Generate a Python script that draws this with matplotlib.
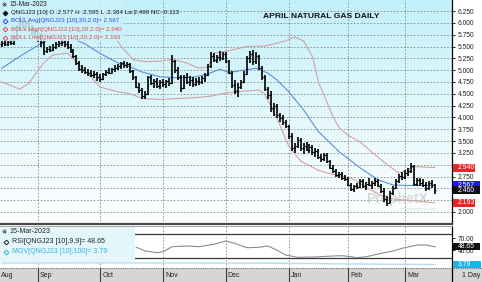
"""April natural gas daily bar chart (ProphetX style) -> out.png"""
import numpy as np, pandas as pd, matplotlib; matplotlib.use("Agg")
import matplotlib.pyplot as plt
from matplotlib.colors import LinearSegmentedColormap
from matplotlib.patches import Rectangle
from matplotlib.lines import Line2D

plt.rcParams["font.family"] = ["Liberation Sans", "DejaVu Sans"]

# trading days shown: 16-Aug-2022 .. 15-Mar-2023
holidays = ["2022-09-05", "2022-11-24", "2022-12-26", "2023-01-02", "2023-01-16", "2023-02-20"]
dates = pd.bdate_range("2022-08-16", "2023-03-15", freq="C", holidays=holidays)

# daily OHLC, QNGJ23
opens = [5.55, 5.58, 5.55, 5.60, 5.57, 5.66, 5.90, 6.05, 5.95, 6.00, 5.85, 5.80,            # Aug
         5.75, 5.70, 5.60, 5.40, 5.45, 5.42, 5.50, 5.55, 5.58, 5.60, 5.56, 5.50, 5.40, 5.30,
         5.15, 5.03, 5.00, 4.96, 4.94, 4.90, 4.92,                                          # Sep
         4.85, 4.82, 4.92, 4.97, 4.95, 5.02, 5.05, 5.08, 5.15, 5.10, 5.12, 4.98, 4.85, 4.65,
         4.58, 4.45, 4.50, 4.85, 4.72, 4.72, 4.66,                                          # Oct
         4.76, 4.70, 4.78, 4.72, 5.20, 5.00, 4.85, 4.62, 4.85, 4.75, 4.80, 4.70, 4.78, 4.74,
         4.84, 4.90, 5.08, 5.30, 5.22, 5.28, 5.25,                                          # Nov
         5.34, 5.20, 4.95, 4.68, 4.55, 4.65, 4.75, 4.92, 5.25, 5.35, 5.20, 5.30, 5.05, 4.85,
         4.60, 4.48, 4.20, 4.25, 4.05, 3.98, 3.90,                                          # Dec
         3.82, 3.60, 3.35, 3.40, 3.52, 3.35, 3.40, 3.32, 3.38, 3.26, 3.30, 3.16, 3.12, 3.20,
         3.08, 2.94, 2.86, 2.78, 2.80, 2.72,                                                # Jan
         2.70, 2.58, 2.48, 2.54, 2.52, 2.66, 2.55, 2.60, 2.58, 2.62, 2.66, 2.56, 2.44, 2.28,
         2.20, 2.40, 2.50, 2.66, 2.76,                                                      # Feb
         2.74, 2.82, 2.86, 2.98, 2.60, 2.68, 2.62, 2.58, 2.50, 2.62, 2.577]                 # Mar
highs = [5.62, 5.64, 5.62, 5.65, 5.70, 5.95, 6.15, 6.12, 6.05, 6.08, 5.95, 5.88,
         5.85, 5.78, 5.62, 5.50, 5.52, 5.55, 5.60, 5.62, 5.66, 5.64, 5.62, 5.55, 5.45, 5.33,
         5.20, 5.10, 5.06, 5.02, 5.00, 4.98, 4.96,
         4.92, 4.95, 5.00, 5.05, 5.05, 5.10, 5.12, 5.18, 5.20, 5.18, 5.15, 5.00, 4.88, 4.72,
         4.62, 4.55, 4.88, 4.90, 4.82, 4.83, 4.80,
         4.82, 4.80, 4.84, 5.32, 5.22, 5.07, 4.90, 4.90, 4.95, 4.88, 4.86, 4.84, 4.86, 4.88,
         4.94, 5.12, 5.38, 5.36, 5.32, 5.40, 5.38,
         5.38, 5.22, 4.98, 4.80, 4.72, 4.80, 4.98, 5.30, 5.40, 5.42, 5.38, 5.32, 5.08, 4.90,
         4.65, 4.55, 4.30, 4.28, 4.10, 4.05, 3.95,
         3.85, 3.68, 3.45, 3.58, 3.56, 3.45, 3.48, 3.44, 3.42, 3.36, 3.34, 3.22, 3.24, 3.25,
         3.10, 3.00, 2.90, 2.85, 2.84, 2.78,
         2.74, 2.62, 2.58, 2.62, 2.70, 2.70, 2.64, 2.72, 2.66, 2.72, 2.70, 2.60, 2.50, 2.34,
         2.45, 2.55, 2.70, 2.80, 2.84,
         2.88, 2.92, 3.04, 3.00, 2.72, 2.72, 2.70, 2.64, 2.66, 2.68, 2.595]
lows = [5.50, 5.52, 5.51, 5.53, 5.54, 5.64, 5.85, 5.88, 5.85, 5.80, 5.72, 5.68,
        5.60, 5.50, 5.32, 5.36, 5.38, 5.40, 5.45, 5.48, 5.52, 5.50, 5.45, 5.36, 5.25, 5.10,
        4.98, 4.95, 4.92, 4.88, 4.86, 4.84, 4.78,
        4.76, 4.80, 4.88, 4.92, 4.93, 4.97, 5.00, 5.02, 5.05, 5.04, 4.95, 4.80, 4.62, 4.52,
        4.40, 4.38, 4.48, 4.68, 4.62, 4.62, 4.60,
        4.64, 4.62, 4.66, 4.70, 4.95, 4.80, 4.54, 4.60, 4.70, 4.66, 4.64, 4.66, 4.68, 4.70,
        4.76, 4.88, 5.05, 5.18, 5.16, 5.20, 5.22,
        5.15, 4.92, 4.62, 4.50, 4.44, 4.60, 4.72, 4.90, 5.15, 5.10, 5.12, 5.00, 4.80, 4.55,
        4.40, 4.12, 4.02, 3.98, 3.90, 3.85, 3.78,
        3.55, 3.30, 3.25, 3.36, 3.30, 3.22, 3.28, 3.24, 3.20, 3.16, 3.12, 3.06, 3.08, 3.04,
        2.90, 2.82, 2.74, 2.72, 2.68, 2.66,
        2.54, 2.44, 2.42, 2.48, 2.50, 2.50, 2.47, 2.55, 2.48, 2.56, 2.52, 2.40, 2.22, 2.12,
        2.18, 2.36, 2.48, 2.62, 2.68,
        2.70, 2.76, 2.82, 2.56, 2.54, 2.56, 2.52, 2.44, 2.46, 2.50, 2.384]
closes = [5.58, 5.55, 5.60, 5.57, 5.66, 5.90, 6.05, 5.95, 6.00, 5.85, 5.80, 5.75,
          5.70, 5.60, 5.40, 5.45, 5.42, 5.50, 5.55, 5.58, 5.60, 5.56, 5.50, 5.40, 5.30, 5.15,
          5.03, 5.00, 4.96, 4.94, 4.90, 4.92, 4.85,
          4.82, 4.92, 4.97, 4.95, 5.02, 5.05, 5.08, 5.15, 5.10, 5.12, 4.98, 4.85, 4.65, 4.58,
          4.45, 4.50, 4.85, 4.72, 4.78, 4.66, 4.76,
          4.70, 4.78, 4.72, 5.20, 5.00, 4.85, 4.62, 4.85, 4.75, 4.80, 4.70, 4.78, 4.74, 4.84,
          4.90, 5.08, 5.30, 5.22, 5.28, 5.25, 5.34,
          5.20, 4.95, 4.68, 4.55, 4.65, 4.75, 4.92, 5.25, 5.35, 5.20, 5.30, 5.05, 4.85, 4.60,
          4.48, 4.20, 4.25, 4.05, 3.98, 3.90, 3.82,
          3.60, 3.35, 3.40, 3.52, 3.35, 3.40, 3.32, 3.38, 3.26, 3.30, 3.16, 3.12, 3.20, 3.08,
          2.94, 2.86, 2.78, 2.80, 2.72, 2.70,
          2.58, 2.48, 2.54, 2.52, 2.66, 2.55, 2.60, 2.58, 2.62, 2.66, 2.56, 2.44, 2.28, 2.20,
          2.40, 2.50, 2.66, 2.76, 2.74,
          2.82, 2.86, 2.98, 2.60, 2.68, 2.62, 2.58, 2.50, 2.62, 2.58, 2.460]

# Bollinger bands (20, 2.0), x = bar number (0 = 16-Aug)
boll_hi_x = [0, 6, 12, 22, 28, 33, 37, 40, 44, 48, 53, 57, 62, 66, 69, 71, 76, 82, 88, 92,
             95, 98, 101, 104, 106, 108, 111, 113, 116, 120, 124, 129, 133, 136, 138, 145]
boll_hi = [5.95, 6.10, 6.10, 6.15, 6.05, 5.95, 5.78, 5.50, 5.22, 5.18, 5.19, 5.23, 5.15, 5.04,
           5.07, 5.36, 5.41, 5.50, 5.51, 5.57, 5.62, 5.70, 5.62, 5.29, 4.75, 4.45, 4.00, 3.78,
           3.62, 3.48, 3.26, 3.00, 2.82, 2.90, 2.96, 2.94]
boll_avg_x = [0, 6, 12, 17, 22, 28, 33, 39, 43, 47, 53, 59, 64, 69, 73, 76, 81, 85, 89, 92,
              96, 101, 106, 113, 120, 126, 131, 136, 145]
boll_avg = [5.04, 5.29, 5.52, 5.70, 5.72, 5.55, 5.35, 5.15, 5.07, 4.96, 4.86, 4.84, 4.85, 4.92,
            5.02, 4.95, 5.00, 5.04, 4.94, 4.80, 4.55, 4.16, 3.70, 3.27, 2.93, 2.68, 2.57, 2.56, 2.567]
boll_lo_x = [0, 6, 9, 14, 17, 22, 28, 33, 39, 43, 47, 53, 59, 65, 70, 75, 80, 86, 88, 90,
             93, 96, 100, 106, 113, 117, 122, 126, 129, 133, 138, 145]
boll_lo = [4.75, 4.60, 4.72, 5.15, 5.32, 5.36, 4.98, 4.64, 4.54, 4.50, 4.40, 4.38, 4.40, 4.42,
           4.45, 4.52, 4.55, 4.58, 4.50, 4.25, 3.85, 3.40, 3.08, 2.88, 2.76, 2.72, 2.52, 2.38,
           2.30, 2.26, 2.24, 2.193]

# RSI(9,9) and 100-day moving average panel
rsi_x = [45, 48, 52, 54, 57, 62, 66, 71, 75, 78, 82, 86, 89, 92, 95, 99, 105, 111, 114, 117,
         119, 122, 127, 131, 134, 139, 142, 145]
rsi = [47.5, 38.3, 34.0, 36.5, 49.0, 50.8, 49.0, 55.0, 63.3, 57.5, 46.5, 47.5, 50.8, 40.8,
       28.3, 22.5, 23.3, 25.8, 26.5, 24.0, 21.5, 24.0, 32.5, 38.3, 45.0, 53.3, 53.3, 48.65]
mov_x = [0, 32, 62, 92, 112, 127, 145]
mov = [5.05, 5.15, 5.05, 4.85, 4.40, 4.05, 3.79]

price_ticks = [2.0, 2.25, 2.5, 2.75, 3.0, 3.25, 3.5, 3.75, 4.0, 4.25, 4.5, 4.75, 5.0,
               5.25, 5.5, 5.75, 6.0, 6.25]
hidden_ticks = [2.25, 2.5, 3.0]   # covered by the value tags on the right
months = ["Aug", "Sep", "Oct", "Nov", "Dec", "Jan", "Feb", "Mar"]

W, H = 482, 282
fig = plt.figure(figsize=(W / 100, H / 100), dpi=100, facecolor="white")
def box(l, t, r, b): return [l / W, 1 - b / H, (r - l) / W, (b - t) / H]
def fx(x): return x / W
def fy(y): return 1 - y / H

bars = np.arange(len(dates))
mstart = [bars[np.argmax((dates.month == d.month) & (dates.year == d.year))]
          for d in pd.date_range("2022-09-01", "2023-03-01", freq="MS")]
X0, X1 = -0.6, 150.7
grid_kw = dict(color="#8a8a8a", lw=0.6, ls=(0, (2, 2)), zorder=1)

# ---- price panel
ax = fig.add_axes(box(0, 0, 452, 224))
ax.set_xlim(X0, X1); ax.set_ylim(1.746, 6.484)
bg = LinearSegmentedColormap.from_list("bg", ["#ffffff", "#e2f8fc", "#c2f0fa"])
ax.imshow(np.linspace(0, 1, 256).reshape(-1, 1), extent=[X0, X1, 1.746, 6.484],
          aspect="auto", cmap=bg, origin="lower", zorder=0)
for p in price_ticks: ax.axhline(p, **grid_kw)
for m in mstart: ax.axvline(m, **grid_kw)
ax.text(fx(397), fy(199), "ProphetX", transform=fig.transFigure, ha="center", va="center",
        fontsize=10, weight="bold", color="#b0b0b0", alpha=0.45, zorder=1)
ax.text(fx(418), fy(209), "www.prophetx.com", transform=fig.transFigure, ha="center",
        va="center", fontsize=3.2, color="#b0b0b0", alpha=0.5, zorder=1)
ax.plot(boll_hi_x, boll_hi, color="#d4a2a2", lw=0.8, zorder=2)
ax.plot(boll_lo_x, boll_lo, color="#d4a2a2", lw=0.8, zorder=2)
ax.plot(boll_avg_x, boll_avg, color="#5b8fd8", lw=0.8, zorder=2)
ax.vlines(bars, lows, highs, color="black", lw=1.2, zorder=3)
ax.hlines(opens, bars - 0.5, bars, color="black", lw=0.9, zorder=3)
ax.hlines(closes, bars, bars + 0.5, color="black", lw=0.9, zorder=3)

ax.yaxis.tick_right()
ax.set_yticks(price_ticks, ["" if p in hidden_ticks else f"{p:.3f}" for p in price_ticks])
ax.tick_params(axis="y", direction="out", length=2.5, width=0.6, pad=1.5,
               labelsize=4.8, labelcolor="#222222")
ax.set_xticks([])
for s in ["left", "top"]: ax.spines[s].set_visible(False)
ax.spines["right"].set_color("black"); ax.spines["right"].set_linewidth(0.9)
ax.spines["bottom"].set_color("#4a4a4a"); ax.spines["bottom"].set_linewidth(1.6)

def tag(a, v, txt, fc, w=0.058, h=0.17):
    a.add_patch(Rectangle((1.003, v - h / 2), w, h, transform=a.get_yaxis_transform(),
                          fc=fc, ec="none", clip_on=False, zorder=6))
    a.text(1.012, v, txt, transform=a.get_yaxis_transform(), va="center", ha="left",
           fontsize=4.9, color="white", clip_on=False, zorder=7)
tag(ax, boll_hi[-1], "2.940", "#e8262a", w=0.047)
tag(ax, boll_avg[-1], "2.567", "#1a1af0")
tag(ax, closes[-1], "2.460", "#111111")
tag(ax, boll_lo[-1], "2.193", "#e8262a", w=0.047)

# ---- RSI panel (MOV on its own hidden scale)
rx = fig.add_axes(box(0, 226, 452, 268))
mv = rx.twinx()
rx.set_xlim(X0, X1); rx.set_ylim(-4.25, 100.75)
for m in mstart: rx.axvline(m, **grid_kw)
rx.axhline(80, color="#3a3a3a", lw=0.9, zorder=2)
rx.axhline(20, color="#3a3a3a", lw=0.9, zorder=2)
rx.plot(rsi_x, rsi, color="#8c8c8c", lw=0.8, zorder=3)
rx.set_yticks([70, 40], ["70.00", "40.00"])
rx.yaxis.tick_right()
rx.tick_params(axis="y", direction="out", length=2.5, width=0.6, pad=1.5,
               labelsize=4.8, labelcolor="#222222", left=False, labelleft=False,
               right=True, labelright=True)
rx.set_xticks([])
for s in ["left", "bottom"]: rx.spines[s].set_visible(False)
rx.spines["top"].set_color("#9a9a9a"); rx.spines["top"].set_linewidth(0.6)
rx.spines["right"].set_color("black"); rx.spines["right"].set_linewidth(0.9)
mv.set_ylim(1.0, 35.0); mv.set_yticks([])
for s in mv.spines.values(): s.set_visible(False)
mv.plot(mov_x, mov, color="#b4def2", lw=1.0, zorder=2)
tag(rx, rsi[-1], "48.65", "#111111", h=17)
tag(mv, mov[-1], "3.79", "#1cb2ea", w=0.062, h=5.4)

# ---- date band
dx = fig.add_axes(box(0, 268, 482, 282))
dx.set_xlim(X0, X0 + (X1 - X0) * 482 / 452); dx.set_ylim(0, 1)
dx.set_facecolor("#d6d6d6")
dx.set_xticks([]); dx.set_yticks([])
for s in dx.spines.values(): s.set_visible(False)
dx.axhline(0.97, color="#707070", lw=0.8, ls=(0, (1, 1)))
dx.vlines(mstart, 0, 1, color="#3c3c3c", lw=0.8)
dx.axvline(X1, color="black", lw=0.9)
for m, lab in zip([X0 + 0.2] + mstart, months):
    dx.text(m + (0.6 if lab != "Aug" else 0), 0.45, lab, ha="left", va="center",
            fontsize=5, color="#222222")
dx.text(X1 + 3.5, 0.45, "1 Day", ha="left", va="center", fontsize=5, color="#222222")

# ---- legends
fig.add_artist(Rectangle((0, fy(41)), fx(124), 41 / H, transform=fig.transFigure,
                         fc="#cbf2fa", ec="none", alpha=0.85))
fig.add_artist(Rectangle((0, fy(262)), fx(135), 35 / H, transform=fig.transFigure,
                         fc="#e3f7fb", ec="none"))
fig.text(fx(321), fy(17), "APRIL NATURAL GAS DAILY", ha="center", va="center",
         fontsize=6.1, weight="bold", color="#111111")

def mark(x, y, color, filled=False):
    fig.add_artist(Line2D([fx(x)], [fy(y)], transform=fig.transFigure, marker="D",
                          ms=2.4, mew=0.7, mec=color, mfc=color if filled else "none"))
def lens(x, y):
    fig.add_artist(Line2D([fx(x)], [fy(y)], transform=fig.transFigure, marker="o",
                          ms=2.2, mew=0.5, mec="#333333", mfc="none"))
    fig.add_artist(Line2D([fx(x + 0.8), fx(x + 2.2)], [fy(y + 0.8), fy(y + 2.2)],
                          transform=fig.transFigure, color="#333333", lw=0.6))

lens(3.5, 3.5)
fig.text(fx(9.5), fy(4.3), "15-Mar-2023", va="center", fontsize=4.8, color="#222222")
rows = [("QNGJ23 [10] O :2.577 H :2.595 L :2.384 La:2.460 NC:-0.113", "#111111", True),
        ("BOLL Avg[QNGJ23 [10],20,2.0]= 2.567", "#2a48e0", False),
        ("BOLL High[QNGJ23 [10],20,2.0]= 2.940", "#e04848", False),
        ("BOLL Low[QNGJ23 [10],20,2.0]= 2.193", "#e04848", False)]
for k, (txt, col, filled) in enumerate(rows):
    y = 12.5 + 8.35 * k
    mark(5, y, col, filled)
    fig.text(fx(11), fy(y), txt, va="center", fontsize=4.5, color=col)

lens(3.5, 230.5)
fig.text(fx(9.5), fy(231.5), "15-Mar-2023", va="center", fontsize=5.1, color="#222222")
mark(5.5, 241.7, "#222222")
fig.text(fx(12.5), fy(241.7), "RSI[QNGJ23 [10],9,9]= 48.65", va="center", fontsize=5.0,
         color="#222222")
mark(5.5, 251.7, "#3aaee0")
fig.text(fx(12.5), fy(251.7), "MOV[QNGJ23 [10],100]= 3.79", va="center", fontsize=5.0,
         color="#3aaee0")

fig.savefig("out.png", dpi=100)
print("saved out.png")
